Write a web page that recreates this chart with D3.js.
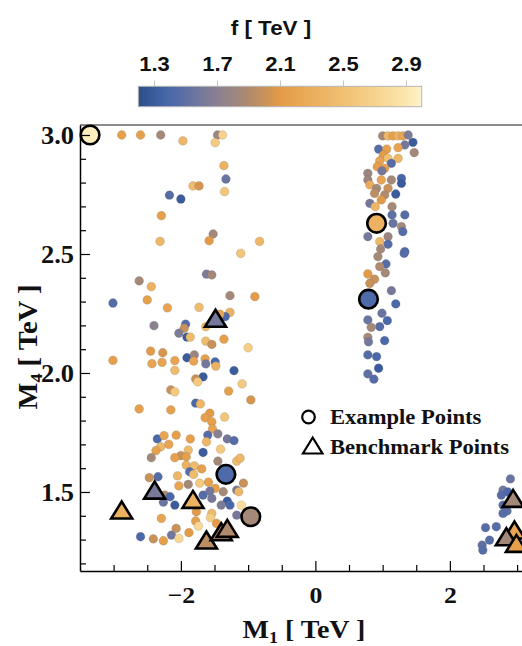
<!DOCTYPE html>
<html><head><meta charset="utf-8">
<script src="https://cdn.jsdelivr.net/npm/d3@7"></script>
<style>html,body{margin:0;padding:0;background:#fff;overflow:hidden}</style>
</head><body><svg id="c" width="522" height="646"></svg>
<script>
// ---------- DATA ([M1, M4, f] in TeV) ----------
const scanLeftUpper = [
[-2.88,3.00,2.15],[-2.60,3.00,2.15],[-2.30,3.00,1.85],[-1.97,2.975,2.4],[-1.455,3.00,1.8],[-1.38,3.00,2.7],[-1.49,2.968,2.6],[-1.36,2.871,2.35],[-1.33,2.815,1.55],[-1.35,2.762,2.55],[-1.82,2.786,2.45],[-1.73,2.786,2.05],[-2.17,2.747,1.45],[-2.00,2.731,1.3],[-2.29,2.661,2.15],[-1.52,2.584,1.85],[-1.58,2.556,2.1],[-2.31,2.553,2.4],[-1.11,2.503,2.55],[-0.83,2.553,2.4],
[-1.62,2.415,1.65],[-1.54,2.412,1.85],[-2.62,2.387,1.85],[-2.44,2.363,2.35],[-2.50,2.307,2.15],[-3.01,2.294,1.45],[-2.20,2.274,2.2],[-1.73,2.276,2.45],[-1.27,2.325,1.85],[-0.90,2.321,2.1],[-1.27,2.255,2.35],[-1.34,2.237,1.4],[-1.42,2.247,2.2],[-1.63,2.195,2.4],[-2.40,2.199,1.7],[-1.93,2.205,1.45],[-1.95,2.188,2.0],[-2.03,2.167,1.65],[-1.91,2.151,1.3],[-1.86,2.151,2.45],[-1.63,2.134,2.45],[-1.54,2.12,2.0],[-1.36,2.142,2.15],[-1.00,2.106,2.65],[-3.01,2.053,2.15],[-2.45,2.092,2.1],[-2.27,2.085,2.05],[-2.43,2.039,2.2],[-2.28,2.045,2.2],[-2.09,2.052,2.2],[-2.09,2.011,2.45],[-1.91,2.064,1.3],[-1.80,2.076,1.8],[-1.81,2.05,2.2],[-1.64,2.059,2.15],[-1.63,2.038,1.6],[-1.49,2.047,1.4],[-1.48,2.029,2.35],[-1.21,2.01,1.3],[-1.67,1.984,1.3],[-1.78,1.975,2.0],[-1.75,1.963,2.6],[-1.09,1.954,2.6],[-2.15,1.929,2.0],[-2.09,1.921,2.6],[-1.29,1.924,2.15],[-0.96,1.887,2.05],[-1.78,1.873,1.4],[-1.71,1.87,2.4]
];
const scanLeftLower = [
[-2.62,1.849,2.15],[-2.15,1.845,2.15],[-1.57,1.831,2.1],[-1.64,1.812,2.15],[-1.54,1.795,2.15],[-1.53,1.765,2.2],[-1.35,1.815,2.55],[-1.60,1.739,1.45],[-1.45,1.744,1.7],[-1.31,1.723,1.6],[-1.21,1.716,1.45],[-1.62,1.711,2.4],[-2.35,1.723,1.4],[-2.25,1.737,2.2],[-2.07,1.739,2.15],[-2.18,1.70,2.2],[-2.30,1.69,2.4],[-2.37,1.674,2.15],[-2.44,1.644,1.85],[-1.86,1.723,2.15],[-1.89,1.676,2.45],[-1.67,1.666,1.3],[-1.41,1.68,2.6],[-2.00,1.653,2.0],[-2.09,1.644,2.15],[-1.92,1.648,2.15],[-1.92,1.613,2.35],[-1.80,1.61,2.45],[-1.69,1.597,2.15],[-1.45,1.63,1.85],[-1.17,1.63,2.45],[-1.12,1.642,2.4],[-1.87,1.585,1.45],[-1.81,1.574,2.45],[-2.05,1.568,2.4],[-2.47,1.56,2.0],[-2.34,1.564,1.45],[-1.59,1.541,2.15],[-1.72,1.537,2.6],[-1.89,1.532,1.85],[-2.03,1.526,2.2],[-1.07,1.537,2.0],[-1.17,1.508,1.6],[-1.14,1.501,2.4],[-1.37,1.501,1.85],[-1.49,1.515,2.15],[-1.57,1.504,1.6],[-1.67,1.487,1.45],[-1.54,1.473,1.6],[-1.31,1.462,1.3],[-1.40,1.445,1.65],[-1.27,1.445,1.4],[-2.24,1.487,1.9],[-2.16,1.48,1.4],[-2.26,1.457,1.55],[-2.09,1.445,1.3],[-1.77,1.417,2.1],[-1.54,1.41,2.45],[-1.56,1.392,2.65],[-1.10,1.445,2.8],[-1.17,1.403,1.6],[-2.29,1.389,2.2],[-1.78,1.378,2.15],[-1.47,1.368,2.1],[-1.74,1.357,2.75],[-2.07,1.347,2.0],[-1.88,1.329,2.1],[-2.14,1.319,1.6],[-2.03,1.305,2.75],[-2.60,1.312,1.4],[-2.41,1.303,2.0],[-2.26,1.295,2.15]
];
const scanRight = [
[1.00,2.996,1.85],[1.08,2.996,2.4],[1.155,2.996,2.15],[1.23,2.996,2.35],[1.30,2.996,2.2],[1.38,3.0,1.65],[1.45,2.969,1.3],[1.33,2.958,1.6],[0.94,2.941,1.45],[1.06,2.941,2.15],[1.23,2.947,2.2],[1.47,2.926,1.85],[1.01,2.916,2.1],[1.08,2.902,2.5],[1.23,2.902,2.4],[0.957,2.891,2.2],[1.13,2.881,1.45],[0.92,2.867,2.15],[1.03,2.86,2.15],[0.99,2.849,1.6],[0.78,2.839,1.8],[0.78,2.811,1.8],[1.28,2.818,1.4],[0.98,2.811,2.2],[1.13,2.811,1.85],[1.28,2.797,1.3],[0.81,2.79,2.3],[0.91,2.776,1.85],[1.08,2.776,2.0],[0.88,2.755,1.95],[1.03,2.748,1.9],[1.195,2.752,1.3],[0.81,2.713,1.6],[0.98,2.727,2.1],[1.14,2.699,1.85],[0.89,2.699,2.4],[1.33,2.664,1.45],[1.14,2.664,1.5],[1.155,2.629,1.55],[1.28,2.615,1.85],[1.30,2.594,1.45],[0.78,2.573,1.6],[1.08,2.573,1.8],[0.957,2.552,2.4],[1.08,2.541,1.45],[0.97,2.521,1.85],[1.33,2.51,1.4],
[0.93,2.489,1.85],[1.32,2.503,1.45],[1.05,2.458,1.45],[0.957,2.447,1.9],[1.04,2.421,1.85],[0.78,2.416,2.1],[0.88,2.394,2.0],[0.81,2.377,2.0],[1.13,2.346,1.6],[1.195,2.29,1.4],[0.99,2.251,1.55],[0.78,2.223,1.55],[1.07,2.22,1.4],[0.957,2.195,1.45],[0.83,2.192,1.85],[0.78,2.15,1.85],[0.79,2.131,1.6],[1.03,2.136,1.4],[0.78,2.076,1.45],[0.91,2.069,1.4],[0.94,2.02,1.3],[0.78,1.996,1.5],[0.87,1.974,1.45]
];
const scanCorner = [
[2.90,1.555,1.55],[2.79,1.508,1.6],[2.765,1.487,1.45],[2.86,1.50,1.4],[2.79,1.445,1.45],[2.85,1.42,1.5],[2.79,1.41,1.45],[2.69,1.354,1.45],[2.53,1.35,1.45],[2.59,1.298,1.45],[2.48,1.277,1.5],[2.49,1.256,1.45]
];
const examplePoints = [[-3.35,3.0,2.95],[-1.33,1.574,1.42],[-0.96,1.396,1.85],[0.91,2.629,2.35],[0.79,2.31,1.42]];
const benchmarkPoints = [[-1.485,2.23,1.6],[-2.39,1.508,1.62],[-1.82,1.469,2.35],[-2.88,1.424,2.35],[-1.62,1.298,1.95],[-1.40,1.333,1.95],[-1.31,1.347,1.9],[2.94,1.473,1.85],[2.96,1.34,2.2],[2.84,1.312,1.85],[2.99,1.284,2.15]];
const xMajorTicks = [-2, 0, 2];
const xMinorTicks = [-3, -2.5, -1.5, -1, -0.5, 0.5, 1, 1.5, 2.5, 3];
const yMajorTicks = [1.5, 2.0, 2.5, 3.0];
const yMinorTicks = [1.2,1.3,1.4,1.6,1.7,1.8,1.9,2.1,2.2,2.3,2.4,2.6,2.7,2.8,2.9];
const colorTicks = [1.3, 1.7, 2.1, 2.5, 2.9];
const colorDomain = [1.2, 3.0];
const legendLabels = ["Example Points", "Benchmark Points"];

// ---------- STYLE ----------
const fStops = [1.2,1.3,1.4,1.55,1.7,1.85,1.97,2.1,2.3,2.5,2.7,2.9,3.0];
const cStops = ["#2b4f87","#3a5c9c","#4a68aa","#6a74a0","#8a8092","#a48878","#c08f5f","#e49b47","#ebad5c","#f0c072","#f6d38c","#fce6ae","#fff4cc"];
const color = d3.scaleLinear().domain(fStops).range(cStops).interpolate(d3.interpolateRgb).clamp(true);
const SERIF = "'Liberation Serif','Times New Roman',serif";
const SANS = "'Liberation Sans',Arial,sans-serif";

const svg = d3.select("#c");
const x = d3.scaleLinear().domain([-3.5, 3.2]).range([80, 80 + 6.7 * 67.25]);
const y = d3.scaleLinear().domain([1.168, 3.042]).range([571, 125]);

function stretch(sel, k) {
  sel.each(function () {
    const L = this.getComputedTextLength();
    d3.select(this).attr("textLength", L * k).attr("lengthAdjust", "spacingAndGlyphs");
  });
}

// top frame line
svg.append("line").attr("x1", x.range()[0]).attr("x2", x.range()[1])
  .attr("y1", y.range()[1]).attr("y2", y.range()[1]).attr("stroke", "#666").attr("stroke-width", 1.3);

// points
const scan = scanLeftUpper.concat(scanLeftLower, scanRight, scanCorner);
svg.append("g").selectAll("circle").data(scan).join("circle")
  .attr("cx", d => x(d[0])).attr("cy", d => y(d[1])).attr("r", 4.4)
  .attr("fill", d => color(d[2])).attr("stroke", "rgba(110,110,110,0.35)").attr("stroke-width", 0.6);

svg.append("g").selectAll("circle").data(examplePoints).join("circle")
  .attr("cx", d => x(d[0])).attr("cy", d => y(d[1])).attr("r", 9.3)
  .attr("fill", d => color(d[2])).attr("stroke", "#000").attr("stroke-width", 2.6);

const tri = (cx, cy, w, h) => `M${cx - w / 2},${cy + h / 2}L${cx + w / 2},${cy + h / 2}L${cx},${cy - h / 2}Z`;
svg.append("g").selectAll("path").data(benchmarkPoints).join("path")
  .attr("d", d => tri(x(d[0]), y(d[1]), 21, 17))
  .attr("fill", d => color(d[2])).attr("stroke", "#000").attr("stroke-width", 2.6).attr("stroke-linejoin", "miter");

// axes
const gx = svg.append("g").attr("transform", `translate(0,${y.range()[0]})`)
  .call(d3.axisBottom(x).tickValues(xMajorTicks).tickSize(-10).tickSizeOuter(0)
    .tickFormat(d => d < 0 ? "\u2212" + Math.abs(d) : String(d)));
svg.append("g").attr("transform", `translate(0,${y.range()[0]})`)
  .call(d3.axisBottom(x).tickValues(xMinorTicks).tickSize(-6).tickFormat(""))
  .call(g => g.select(".domain").remove());
const gy = svg.append("g").attr("transform", `translate(${x.range()[0]},0)`)
  .call(d3.axisLeft(y).tickValues(yMajorTicks).tickSize(-10).tickSizeOuter(0).tickFormat(d3.format(".1f")));
svg.append("g").attr("transform", `translate(${x.range()[0]},0)`)
  .call(d3.axisLeft(y).tickValues(yMinorTicks).tickSize(-6).tickFormat(""))
  .call(g => g.select(".domain").remove());
svg.selectAll(".domain").attr("stroke", "#000").attr("stroke-width", 1.5);
svg.selectAll(".tick line").attr("stroke", "#000").attr("stroke-width", 1.2);

gx.selectAll("text").attr("font-family", SERIF).attr("font-weight", "bold").attr("font-size", 23)
  .attr("fill", "#111").attr("y", 32).attr("dy", null);
stretch(gx.selectAll("text"), 1.12);
gy.selectAll("text").attr("font-family", SERIF).attr("font-weight", "bold").attr("font-size", 25)
  .attr("fill", "#111").attr("x", -6).attr("dy", "0.35em");
stretch(gy.selectAll("text"), 1.06);

// axis titles
const xl = svg.append("text").attr("x", 304).attr("y", 638).attr("text-anchor", "middle")
  .attr("font-family", SERIF).attr("font-weight", "bold").attr("font-size", 25).attr("fill", "#111");
xl.append("tspan").text("M");
xl.append("tspan").attr("font-size", 16).attr("dy", 5).text("1");
xl.append("tspan").attr("dy", -5).text(" [ TeV ]");
stretch(xl, 1.12);

const yl = svg.append("text").attr("transform", "translate(37,347) rotate(-90)").attr("text-anchor", "middle")
  .attr("font-family", SERIF).attr("font-weight", "bold").attr("font-size", 27).attr("fill", "#111");
yl.append("tspan").text("M");
yl.append("tspan").attr("font-size", 17).attr("dy", 5).text("4");
yl.append("tspan").attr("dy", -5).text(" [ TeV ]");
yl.attr("textLength", 125).attr("lengthAdjust", "spacingAndGlyphs");

// legend
svg.append("circle").attr("cx", 308.5).attr("cy", 417).attr("r", 6.3)
  .attr("fill", "#fff").attr("stroke", "#000").attr("stroke-width", 2.2);
svg.append("path").attr("d", tri(312.7, 445.5, 19.5, 16))
  .attr("fill", "#fff").attr("stroke", "#000").attr("stroke-width", 2.2);
const lg = svg.append("g").selectAll("text").data(legendLabels).join("text")
  .attr("x", 330).attr("y", (d, i) => 424 + i * 30).text(d => d)
  .attr("font-family", SERIF).attr("font-weight", "bold").attr("font-size", 20).attr("fill", "#111");
stretch(lg, 1.13);

// colorbar
const cbx = d3.scaleLinear().domain(colorDomain).range([138.3, 421.7]);
const grad = svg.append("defs").append("linearGradient").attr("id", "cbgrad")
  .attr("x1", "0%").attr("x2", "100%").attr("y1", "0%").attr("y2", "0%");
d3.range(0, 1.0001, 0.02).forEach(t => {
  const f = colorDomain[0] + t * (colorDomain[1] - colorDomain[0]);
  grad.append("stop").attr("offset", (t * 100) + "%").attr("stop-color", color(f));
});
svg.append("rect").attr("x", cbx.range()[0]).attr("y", 86.3)
  .attr("width", cbx.range()[1] - cbx.range()[0]).attr("height", 20.4)
  .attr("fill", "url(#cbgrad)").attr("stroke", "#b5b5b5").attr("stroke-width", 1);
const gc = svg.append("g").attr("transform", "translate(0,86)")
  .call(d3.axisTop(cbx).tickValues(colorTicks).tickSize(5.5).tickPadding(10).tickFormat(d3.format(".1f")))
  .call(g => g.select(".domain").remove());
gc.selectAll(".tick line").attr("stroke", "#c4c4c4").attr("stroke-width", 1);
gc.selectAll("text").attr("font-family", SANS).attr("font-weight", "bold").attr("font-size", 20).attr("fill", "#111");
stretch(gc.selectAll("text"), 1.1);
const ct = svg.append("text").attr("x", 271).attr("y", 35).attr("text-anchor", "middle")
  .attr("font-family", SANS).attr("font-weight", "bold").attr("font-size", 20).attr("fill", "#111")
  .text("f [ TeV ]");
stretch(ct, 1.12);
</script></body></html>
